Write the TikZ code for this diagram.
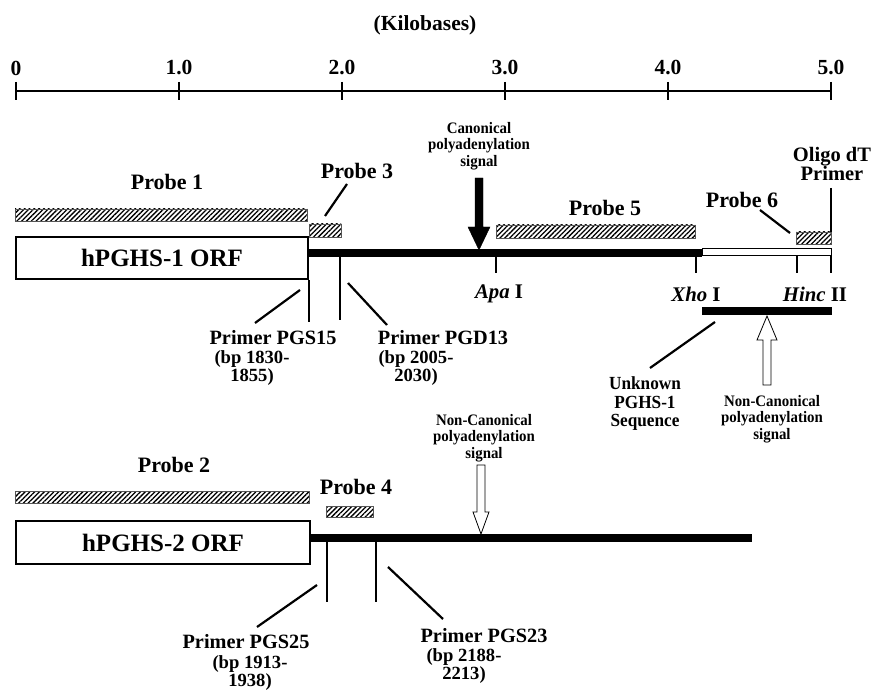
\documentclass[tikz,border=0pt]{standalone}
\usepackage{fontspec}
\setmainfont{Liberation Serif}
\newfontfamily\narrowserif[FakeStretch=0.93]{Liberation Serif}
\usetikzlibrary{patterns.meta}
\definecolor{ink}{HTML}{000000}
\definecolor{hatchrim}{HTML}{555555}
\tikzset{
  rule/.style={draw=ink,line width=2pt},
  leader/.style={draw=ink,line width=2.2pt},
  site tick/.style={draw=ink,line width=2.4pt},
  dna/.style={draw=ink,line width=8pt},
  scale label/.style={font=\fontsize{21.5}{22}\selectfont\bfseries,text=ink,inner sep=0pt},
  probe label/.style={font=\fontsize{22}{24}\selectfont\bfseries,text=ink,inner sep=0pt},
  orf/.style={draw=ink,line width=2pt,inner sep=0pt,font=\fontsize{25}{26}\selectfont\bfseries},
  hatch/.style={draw=hatchrim,line width=0.5pt,inner sep=0pt,outer sep=0pt,
    pattern={Lines[angle=45,distance=3.4pt,line width=1.3pt]}},
  site/.style={font=\fontsize{20.8}{22}\selectfont\bfseries,text=ink,inner sep=0pt},
  primer/.style={font=\fontsize{20.3}{22}\selectfont\bfseries,text=ink,inner sep=0pt},
  bp note/.style={font=\fontsize{18.6}{17.5}\selectfont\bfseries,text=ink,align=center,inner sep=0pt},
  signal note/.style={font=\narrowserif\fontsize{16}{16.5}\selectfont\bfseries,text=ink,align=center,inner sep=0pt},
  seq note/.style={font=\narrowserif\fontsize{18.5}{18.5}\selectfont\bfseries,text=ink,align=center,inner sep=0pt},
  open arrow/.style={draw=ink,line width=0.8pt,fill=white}
}
\begin{document}
\begin{tikzpicture}[x=1pt,y=-1pt]
  \useasboundingbox (0,0) rectangle (871,690);

  % kilobase scale
  \node[scale label] (kb) at (425,25) {(Kilobases)};
  \draw[rule] (16,91) -- (831,91);
  \foreach \k/\t in {0/0,1/1.0,2/2.0,3/3.0,4/4.0,5/5.0}{
    \draw[rule] (16+163*\k,82) -- (16+163*\k,100);
    \node[scale label] (tick\k) at (16+163*\k,68) {\t};
  }

  % hPGHS-1
  \node[probe label] (probe1) at (167,182) {Probe 1};
  \node[hatch,anchor=north west,minimum width=292,minimum height=12] (bar1) at (15,209) {};
  \node[orf,anchor=north west,minimum width=292,minimum height=42] (orf1) at (15,236) {hPGHS-1 ORF};
  \draw[dna] (307,253) -- (702,253);
  \node[draw=ink,line width=0.8pt,fill=white,anchor=west,minimum width=129,minimum height=7,inner sep=0pt] (utr1) at (702,252) {};

  \node[probe label] (probe3) at (357,171) {Probe 3};
  \node[hatch,anchor=north west,minimum width=32,minimum height=13] (bar3) at (309,224) {};
  \draw[leader] (347,184) -- (325,216);

  \node[signal note] (canon) at (479,146) {Canonical\\polyadenylation\\signal};
  \draw[fill=ink] (475,178) -- (483,178) -- (483,227) -- (490,227) -- (479,250)
    -- (468,227) -- (475,227) -- cycle;

  \node[probe label] (probe5) at (605,208) {Probe 5};
  \node[hatch,anchor=north west,minimum width=199,minimum height=13] (bar5) at (496,225) {};

  \node[probe label] (probe6) at (742,200) {Probe 6};
  \node[hatch,anchor=north west,minimum width=35,minimum height=12] (bar6) at (796,232) {};
  \draw[leader] (760,210) -- (790,233);

  \node[font=\fontsize{20.5}{19}\selectfont\bfseries,text=ink,align=center,inner sep=0pt] (oligo) at (832,164) {Oligo dT\\Primer};
  \draw[leader] (831,188) -- (bar6.north east);

  \foreach \x in {496,696,797,831}
    \draw[site tick] (\x,256) -- (\x,273);
  \node[site] (apa) at (499,294) {\textit{Apa} I};
  \node[site] (xho) at (696,294) {\textit{Xho} I};
  \node[site] (hinc) at (815,294) {\textit{Hinc} II};

  \node[fill=ink,anchor=north west,minimum width=130,minimum height=8,inner sep=0pt] (unknown) at (702,307) {};
  \draw[leader] (715,322) -- (650,368);
  \node[seq note] (unknownlbl) at (645,404) {Unknown\\PGHS-1\\Sequence};
  \draw[open arrow] (767,316) -- (777,340) -- (771,340) -- (771,385) -- (763,385)
    -- (763,340) -- (757,340) -- cycle;
  \node[signal note] (noncanon1) at (772,419) {Non-Canonical\\polyadenylation\\signal};

  \draw[rule] (orf1.south east) -- ++(0,42);
  \draw[rule] (340,257) -- (340,320);
  \draw[leader] (300,290) -- (255,323);
  \draw[leader] (348,283) -- (387,325);
  \node[primer] (pgs15) at (273,338) {Primer PGS15};
  \node[bp note] (pgs15bp) at (252,368) {(bp 1830-\\1855)};
  \node[primer] (pgd13) at (443,338) {Primer PGD13};
  \node[bp note] (pgd13bp) at (416,368) {(bp 2005-\\2030)};

  % hPGHS-2
  \node[probe label] (probe2) at (174,465) {Probe 2};
  \node[hatch,anchor=north west,minimum width=294,minimum height=12] (bar2) at (15,491) {};
  \node[orf,anchor=north west,minimum width=294,minimum height=43] (orf2) at (15,520) {hPGHS-2 ORF};
  \draw[dna] (309,538) -- (752,538);

  \node[probe label] (probe4) at (356,487) {Probe 4};
  \node[hatch,anchor=north west,minimum width=47,minimum height=11] (bar4) at (326,506) {};

  \node[signal note] (noncanon2) at (484,438) {Non-Canonical\\polyadenylation\\signal};
  \draw[open arrow] (481,534) -- (473,512) -- (477,512) -- (477,465) -- (485,465)
    -- (485,512) -- (489,512) -- cycle;

  \draw[rule] (327,542) -- (327,602);
  \draw[rule] (376,542) -- (376,602);
  \draw[leader] (317,585) -- (257,627);
  \draw[leader] (388,567) -- (443,619);
  \node[primer] (pgs25) at (246,642) {Primer PGS25};
  \node[bp note] (pgs25bp) at (250,673) {(bp 1913-\\1938)};
  \node[primer] (pgs23) at (484,636) {Primer PGS23};
  \node[bp note] (pgs23bp) at (464,666) {(bp 2188-\\2213)};
\end{tikzpicture}
\end{document}
